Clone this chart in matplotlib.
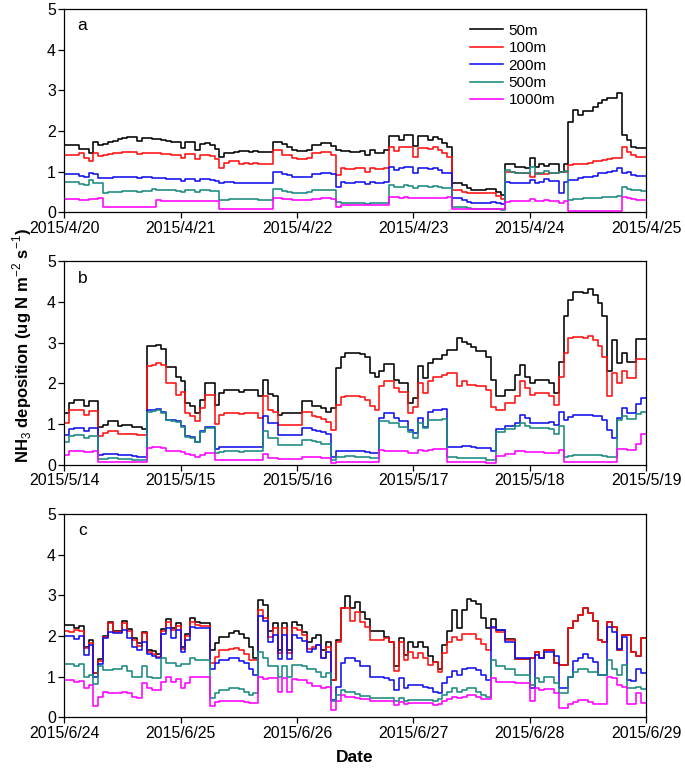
import numpy as np
import matplotlib
matplotlib.use("Agg")
import matplotlib.pyplot as plt

plt.rcParams['font.family'] = ['Liberation Sans', 'DejaVu Sans']
plt.rcParams['mathtext.fontset'] = 'custom'
plt.rcParams['mathtext.rm'] = 'Liberation Sans'
plt.rcParams['mathtext.bf'] = 'Liberation Sans:bold'

heights = ["50m", "100m", "200m", "500m", "1000m"]
colors = ["#000000", "#ff1010", "#1010ee", "#1a8a80", "#ff00ff"]

ticks_a = ["2015/4/20", "2015/4/21", "2015/4/22", "2015/4/23", "2015/4/24", "2015/4/25"]
ticks_b = ["2015/5/14", "2015/5/15", "2015/5/16", "2015/5/17", "2015/5/18", "2015/5/19"]
ticks_c = ["2015/6/24", "2015/6/25", "2015/6/26", "2015/6/27", "2015/6/28", "2015/6/29"]

# ---------------- panel a (hourly) ----------------
a_50m = [1.66,1.66,1.66,1.55,1.55,1.47,1.72,1.66,1.68,1.72,1.76,1.8,1.82,1.85,1.86,1.75,1.83,1.83,1.8,1.8,
         1.78,1.76,1.74,1.72,1.57,1.72,1.72,1.53,1.68,1.7,1.65,1.55,1.35,1.45,1.47,1.48,1.5,1.5,1.48,1.5,
         1.49,1.49,1.49,1.72,1.72,1.68,1.6,1.52,1.5,1.5,1.52,1.66,1.66,1.7,1.7,1.62,1.52,1.5,1.5,1.49,
         1.49,1.5,1.4,1.53,1.46,1.46,1.53,1.88,1.88,1.78,1.9,1.9,1.62,1.88,1.88,1.78,1.86,1.8,1.7,1.61,
         0.72,0.72,0.67,0.6,0.56,0.56,0.56,0.57,0.57,0.5,0.42,1.2,1.2,1.12,1.12,1.08,1.33,1.12,1.2,1.15,
         1.2,1.2,1.0,1.2,2.23,2.52,2.4,2.48,2.5,2.6,2.68,2.76,2.8,2.8,2.93,1.9,1.78,1.6,1.57,1.57]
a_100m = [1.41,1.41,1.41,1.45,1.33,1.25,1.45,1.38,1.4,1.43,1.45,1.47,1.49,1.49,1.49,1.43,1.47,1.47,1.45,1.45,
          1.44,1.43,1.42,1.4,1.33,1.43,1.43,1.3,1.4,1.42,1.38,1.32,1.08,1.22,1.25,1.25,1.2,1.22,1.2,1.21,
          1.2,1.2,1.2,1.53,1.53,1.42,1.42,1.33,1.32,1.32,1.34,1.45,1.46,1.49,1.49,1.41,0.92,1.08,1.06,1.06,
          1.08,1.1,1.0,1.1,1.06,1.06,1.1,1.61,1.5,1.6,1.6,1.6,1.37,1.57,1.57,1.55,1.6,1.53,1.45,1.37,
          0.55,0.55,0.51,0.47,0.47,0.47,0.47,0.47,0.47,0.4,0.32,1.0,1.0,0.96,0.96,0.97,0.88,0.97,0.95,0.95,
          0.96,0.96,0.98,1.0,1.16,1.18,1.2,1.2,1.22,1.25,1.25,1.29,1.32,1.33,1.33,1.61,1.49,1.4,1.37,1.37]
a_200m = [0.95,0.95,0.95,0.9,0.88,0.97,0.95,0.84,0.84,0.85,0.86,0.87,0.87,0.87,0.87,0.84,0.86,0.86,0.85,0.84,
          0.84,0.83,0.83,0.82,0.77,0.82,0.82,0.77,0.82,0.82,0.8,0.78,0.72,0.74,0.74,0.73,0.72,0.72,0.72,0.72,
          0.73,0.73,0.73,1.0,1.0,0.93,0.92,0.88,0.87,0.87,0.88,0.95,0.95,0.96,0.96,0.94,0.63,0.75,0.73,0.73,
          0.74,0.75,0.7,0.75,0.72,0.73,0.75,1.12,1.04,1.1,1.12,1.12,0.97,1.08,1.08,1.06,1.1,1.04,0.96,0.96,
          0.34,0.34,0.31,0.25,0.24,0.24,0.24,0.24,0.25,0.22,0.2,0.75,0.72,0.71,0.71,0.71,0.8,0.72,0.74,0.82,
          0.78,0.78,0.47,0.75,0.8,0.8,0.85,0.87,0.87,0.9,0.96,0.96,0.98,1.02,1.08,0.97,0.98,0.92,0.9,0.9]
a_500m = [0.74,0.74,0.74,0.7,0.68,0.8,0.72,0.72,0.48,0.5,0.5,0.51,0.52,0.52,0.52,0.51,0.52,0.52,0.57,0.56,
          0.55,0.54,0.54,0.53,0.5,0.54,0.54,0.5,0.54,0.54,0.52,0.52,0.3,0.3,0.32,0.33,0.33,0.32,0.32,0.32,
          0.3,0.3,0.3,0.57,0.57,0.52,0.5,0.48,0.48,0.48,0.49,0.54,0.55,0.56,0.56,0.55,0.26,0.22,0.22,0.22,
          0.23,0.22,0.2,0.23,0.22,0.22,0.23,0.67,0.63,0.62,0.66,0.65,0.59,0.64,0.64,0.63,0.65,0.63,0.6,0.59,
          0.14,0.13,0.12,0.1,0.09,0.09,0.09,0.08,0.08,0.07,0.06,1.04,1.0,0.96,0.96,0.96,1.12,0.95,0.96,1.02,
          0.97,0.96,1.0,1.02,0.3,0.32,0.33,0.34,0.34,0.35,0.36,0.37,0.38,0.38,0.39,0.63,0.58,0.55,0.54,0.52]
a_1000m = [0.33,0.33,0.33,0.31,0.31,0.33,0.33,0.34,0.14,0.14,0.14,0.14,0.14,0.14,0.14,0.14,0.14,0.14,0.14,0.3,
           0.29,0.28,0.28,0.29,0.28,0.27,0.28,0.27,0.28,0.28,0.27,0.28,0.07,0.07,0.07,0.07,0.07,0.07,0.07,0.07,
           0.07,0.07,0.07,0.34,0.34,0.33,0.32,0.3,0.3,0.3,0.31,0.32,0.33,0.34,0.34,0.33,0.14,0.18,0.17,0.17,
           0.18,0.18,0.17,0.18,0.17,0.17,0.18,0.38,0.37,0.35,0.37,0.36,0.34,0.36,0.36,0.35,0.36,0.35,0.36,0.38,
           0.07,0.07,0.07,0.07,0.07,0.07,0.07,0.07,0.07,0.07,0.07,0.26,0.27,0.27,0.27,0.28,0.32,0.27,0.28,0.3,
           0.29,0.28,0.22,0.27,0.04,0.04,0.04,0.04,0.04,0.04,0.04,0.04,0.04,0.04,0.04,0.38,0.35,0.33,0.31,0.31]

# ---------------- panel b (hourly) ----------------
b_50m = [1.27,1.52,1.6,1.6,1.45,1.58,1.58,0.93,0.98,1.07,1.07,0.96,0.98,0.98,0.94,0.94,0.89,2.91,2.91,2.95,
         2.85,2.4,2.4,2.17,2.05,1.52,1.45,1.27,1.6,2.02,2.02,1.48,1.76,1.83,1.83,1.83,1.78,1.84,1.84,1.84,
         1.68,2.09,1.75,1.7,1.23,1.27,1.27,1.27,1.27,1.56,1.56,1.45,1.45,1.4,1.31,1.4,2.38,2.66,2.76,2.76,
         2.76,2.72,2.64,2.25,2.15,2.3,2.48,2.48,2.09,2.0,2.0,1.52,1.65,2.43,2.13,2.5,2.6,2.6,2.7,2.83,
         2.83,3.11,3.03,2.98,2.89,2.8,2.8,2.66,2.09,1.7,1.7,1.84,1.84,2.21,2.46,2.17,2.0,2.09,2.09,2.09,
         2.0,1.76,2.54,3.65,4.06,4.26,4.26,4.22,4.32,4.18,3.98,3.65,2.3,3.07,2.5,2.75,2.54,2.54,3.1,3.1]
b_100m = [1.02,1.35,1.36,1.36,1.23,1.33,1.33,0.7,0.78,0.82,0.82,0.75,0.76,0.76,0.75,0.73,0.73,2.43,2.45,2.5,
          2.45,2.02,2.02,1.72,1.8,1.27,1.2,1.07,1.39,1.72,1.72,1.0,1.23,1.27,1.27,1.28,1.25,1.27,1.27,1.28,
          1.15,1.68,1.36,1.3,0.98,0.98,0.98,0.98,0.98,1.29,1.29,1.2,1.18,1.12,1.06,0.86,1.48,1.66,1.68,1.68,
          1.68,1.66,1.6,1.45,1.35,1.93,2.05,2.05,1.9,1.8,1.8,1.27,1.43,2.0,1.76,2.05,2.17,2.17,2.2,2.27,
          2.27,1.93,2.05,1.97,1.97,1.93,1.93,1.84,1.43,1.35,1.35,1.52,1.52,1.68,2.05,1.9,1.72,1.76,1.76,1.76,
          1.68,1.48,2.17,2.75,3.11,3.15,3.15,3.12,3.18,3.08,2.91,2.66,1.68,2.25,2.0,2.3,2.13,2.13,2.6,2.6]
b_200m = [0.74,0.89,0.9,0.9,0.82,0.9,0.9,0.23,0.26,0.27,0.27,0.24,0.25,0.25,0.22,0.2,0.2,1.34,1.34,1.37,
          1.3,1.1,1.1,1.08,0.96,0.72,0.68,0.57,0.82,0.92,0.92,0.39,0.44,0.45,0.45,0.45,0.44,0.45,0.45,0.45,
          0.45,1.19,1.02,1.02,0.74,0.74,0.74,0.74,0.74,0.9,0.9,0.86,0.84,0.8,0.76,0.2,0.33,0.34,0.34,0.34,
          0.34,0.33,0.32,0.3,0.3,1.15,1.27,1.27,1.15,1.07,1.07,0.86,0.78,1.15,0.94,1.29,1.35,1.35,1.38,0.45,
          0.45,0.45,0.46,0.46,0.45,0.42,0.42,0.42,0.33,0.88,0.88,0.95,0.95,1.02,1.23,1.15,1.04,1.04,1.04,1.04,
          1.05,0.98,1.29,1.1,1.18,1.23,1.23,1.23,1.23,1.19,1.19,1.1,0.86,0.66,1.15,1.39,1.27,1.27,1.5,1.65]
b_500m = [0.57,0.71,0.74,0.74,0.66,0.72,0.72,0.14,0.15,0.17,0.17,0.14,0.15,0.15,0.13,0.12,0.12,1.31,1.32,1.35,
          1.28,1.09,1.08,1.06,0.94,0.68,0.65,0.56,0.8,0.9,0.9,0.3,0.32,0.33,0.33,0.33,0.32,0.33,0.33,0.33,
          0.33,0.82,0.66,0.65,0.49,0.49,0.49,0.49,0.49,0.61,0.61,0.58,0.55,0.51,0.51,0.11,0.2,0.2,0.21,0.21,
          0.2,0.19,0.18,0.17,0.17,1.07,1.07,1.04,1.02,0.94,0.94,0.8,0.66,1.02,0.9,1.1,1.1,1.1,1.12,0.19,
          0.19,0.17,0.17,0.16,0.16,0.16,0.16,0.13,0.12,0.8,0.8,0.88,0.88,0.95,1.02,0.95,0.9,0.9,0.9,0.9,
          0.88,0.76,0.95,0.2,0.22,0.23,0.24,0.24,0.25,0.24,0.23,0.22,0.2,0.19,1.1,1.19,1.12,1.12,1.25,1.3]
b_1000m = [0.25,0.33,0.33,0.33,0.31,0.32,0.33,0.06,0.06,0.06,0.06,0.06,0.06,0.06,0.06,0.06,0.06,0.41,0.43,0.45,
           0.42,0.35,0.35,0.33,0.32,0.27,0.23,0.19,0.25,0.3,0.3,0.11,0.12,0.12,0.12,0.12,0.12,0.12,0.12,0.12,
           0.12,0.27,0.17,0.16,0.15,0.15,0.15,0.15,0.15,0.2,0.2,0.19,0.18,0.16,0.16,0.04,0.08,0.08,0.08,0.08,
           0.08,0.08,0.08,0.08,0.08,0.37,0.35,0.35,0.34,0.33,0.33,0.29,0.29,0.36,0.33,0.37,0.38,0.38,0.39,0.08,
           0.08,0.08,0.08,0.08,0.07,0.07,0.07,0.05,0.05,0.22,0.22,0.27,0.27,0.33,0.33,0.32,0.31,0.31,0.31,0.29,
           0.29,0.29,0.37,0.06,0.06,0.06,0.06,0.06,0.06,0.06,0.06,0.06,0.06,0.06,0.39,0.38,0.37,0.37,0.5,0.75]

# ---------------- panel c (hourly) ----------------
c_50m = [2.27,2.27,2.2,2.25,1.74,1.9,1.1,1.43,2.0,2.35,2.12,2.12,2.37,2.17,1.94,1.82,2.1,1.66,1.62,1.55,
         2.17,2.42,2.2,2.31,1.74,2.04,2.43,2.35,2.31,2.31,1.66,1.82,1.98,1.98,2.08,2.12,2.05,1.96,1.72,1.45,
         2.89,2.76,2.12,2.31,1.66,2.31,1.66,2.34,2.26,2.1,1.86,1.94,2.02,1.66,1.86,0.92,1.9,2.7,2.99,2.68,
         2.83,2.6,2.42,2.12,2.12,2.12,1.98,1.86,1.25,1.96,1.53,1.86,1.74,1.86,1.74,1.5,1.37,1.2,1.78,2.12,
         2.64,2.19,2.64,2.91,2.86,2.78,2.43,2.2,2.41,2.15,2.15,1.93,1.93,1.43,1.43,1.43,1.45,1.61,1.45,1.66,
         1.66,1.33,1.28,1.28,2.19,2.37,2.52,2.68,2.56,2.37,1.9,1.86,2.35,2.23,1.66,2.02,2.02,1.6,1.5,1.95]
c_100m = [2.12,2.1,2.15,2.12,1.7,1.82,1.08,1.39,1.98,2.31,2.1,2.1,2.33,2.12,1.9,1.76,2.07,1.6,1.55,1.49,
          2.12,2.34,2.15,2.25,1.68,2.0,2.34,2.28,2.25,2.25,1.33,1.49,1.66,1.66,1.68,1.7,1.65,1.55,1.42,1.4,
          2.64,2.43,1.98,2.2,1.57,2.2,1.57,2.19,2.15,2.02,1.68,1.74,1.78,1.45,1.74,0.92,1.86,2.7,2.68,2.37,
          2.6,2.35,2.23,1.9,1.9,1.9,1.94,1.86,1.14,1.86,1.41,1.61,1.45,1.57,1.45,1.29,1.37,1.12,1.57,1.86,
          1.98,1.9,2.04,2.04,2.04,1.93,1.8,1.66,2.2,2.11,2.11,1.9,1.9,1.43,1.43,1.43,1.45,1.61,1.45,1.66,
          1.66,1.33,1.28,1.28,2.19,2.37,2.52,2.68,2.56,2.37,1.9,1.86,2.35,2.23,1.66,2.02,2.02,1.6,1.5,1.95]
c_200m = [2.0,2.0,1.93,2.0,1.53,1.77,1.0,1.3,1.94,2.1,2.08,2.08,2.15,1.94,1.74,1.66,1.86,1.55,1.5,1.45,
          2.04,2.19,1.94,2.15,1.61,1.9,2.23,2.19,2.19,2.19,1.2,1.33,1.41,1.41,1.45,1.45,1.38,1.33,1.2,1.05,
          2.5,2.37,1.86,2.03,1.43,2.03,1.43,2.02,1.96,1.88,1.61,1.68,1.78,1.45,1.61,0.43,0.75,1.33,1.47,1.47,
          1.38,1.25,1.25,1.0,1.0,1.0,0.96,0.92,0.67,0.96,0.73,0.8,0.8,0.8,0.75,0.71,0.63,0.6,0.84,1.0,
          1.14,1.04,1.19,1.22,1.22,1.16,1.04,0.92,2.23,2.15,2.15,1.86,1.86,1.45,1.45,1.45,0.73,1.53,1.45,1.6,
          1.6,1.5,0.73,0.73,1.0,1.38,1.45,1.55,1.45,1.37,1.04,1.04,2.23,2.11,1.68,1.98,0.92,0.9,1.2,1.1]
c_500m = [1.3,1.3,1.25,1.3,0.98,1.05,0.81,1.27,1.16,1.16,1.18,1.18,1.25,1.14,1.0,0.98,1.27,1.0,0.96,0.96,
          1.45,1.33,1.33,1.25,1.3,1.3,1.47,1.41,1.41,1.41,0.47,0.59,0.67,0.67,0.72,0.73,0.7,0.63,0.55,0.6,
          1.61,1.45,1.27,1.27,0.98,1.27,0.98,1.28,1.28,1.25,1.2,1.18,1.12,1.0,1.08,0.39,0.55,0.67,0.63,0.63,
          0.57,0.53,0.53,0.48,0.48,0.48,0.48,0.48,0.39,0.47,0.4,0.43,0.43,0.43,0.43,0.43,0.39,0.45,0.55,0.63,
          0.71,0.63,0.67,0.71,0.71,0.63,0.55,0.51,1.41,1.25,1.25,1.2,1.2,1.04,1.04,1.04,0.8,0.96,0.88,1.0,
          1.0,0.84,0.59,0.59,1.0,1.12,1.2,1.2,1.12,1.12,1.04,1.04,1.41,1.2,1.04,1.29,0.71,0.71,0.75,0.7]
c_1000m = [0.92,0.92,0.88,0.9,0.71,0.79,0.29,0.51,0.61,0.59,0.59,0.59,0.63,0.59,0.51,0.47,0.84,0.71,0.67,0.67,
           0.88,0.98,0.88,0.94,0.71,0.84,0.98,0.98,0.98,0.98,0.29,0.37,0.4,0.4,0.4,0.41,0.4,0.38,0.34,0.34,
           0.98,0.93,0.96,0.96,0.63,0.96,0.63,0.94,0.92,0.92,0.84,0.78,0.78,0.71,0.75,0.18,0.39,0.55,0.51,0.51,
           0.48,0.45,0.45,0.4,0.4,0.4,0.4,0.4,0.3,0.37,0.32,0.34,0.34,0.34,0.34,0.34,0.3,0.33,0.4,0.45,
           0.51,0.47,0.5,0.55,0.55,0.51,0.45,0.45,0.96,0.88,0.88,0.86,0.86,0.84,0.84,0.84,0.39,0.71,0.67,0.7,
           0.7,0.59,0.22,0.22,0.32,0.38,0.43,0.43,0.38,0.32,0.32,0.32,1.0,0.96,0.8,0.75,0.32,0.32,0.6,0.35]

panels = [
    ("a", ticks_a, [a_50m, a_100m, a_200m, a_500m, a_1000m]),
    ("b", ticks_b, [b_50m, b_100m, b_200m, b_500m, b_1000m]),
    ("c", ticks_c, [c_50m, c_100m, c_200m, c_500m, c_1000m]),
]

W, H = 685, 771
fig = plt.figure(figsize=(W / 100, H / 100), dpi=100)
left, right = 64.3 / W, 646 / W
tops = [9.0, 261.5, 514.0]
ph = 203.3

axes = []
for (lab, tlabels, series), top in zip(panels, tops):
    ax = fig.add_axes([left, 1 - (top + ph) / H, right - left, ph / H])
    axes.append(ax)
    for vals, col, name in zip(series, colors, heights):
        y = np.array(vals + [vals[-1]], dtype=float)
        x = np.arange(len(y))
        ax.plot(x, y, drawstyle="steps-post", color=col, lw=1.15, label=name)
    ax.set_xlim(0, 120)
    ax.set_ylim(0, 5)
    ax.set_yticks([0, 1, 2, 3, 4, 5])
    ax.set_xticks(np.arange(0, 121, 24))
    ax.set_xticklabels(tlabels)
    ax.tick_params(axis="both", direction="out", length=4, width=0.9, labelsize=11.4,
                   top=False, right=False, pad=2)
    for s in ax.spines.values():
        s.set_linewidth(0.9)
    ax.text(0.031, 0.918, lab, transform=ax.transAxes, fontsize=12.5, ha="center", va="center")

leg = axes[0].legend(loc="upper left", bbox_to_anchor=(0.698, 0.927), frameon=False, fontsize=11,
                     handlelength=2.15, handletextpad=0.35, labelspacing=0.22, borderpad=0, borderaxespad=0)

fig.text(22 / W, 1 - 346 / H, r"NH$_3$ deposition (ug N m$^{-2}$ s$^{-1}$)", rotation=90,
         ha="center", va="center", fontsize=12, fontweight="bold")
fig.text(355 / W, 1 - 757 / H, "Date", ha="center", va="center", fontsize=12.5, fontweight="bold")

fig.savefig("out.png", dpi=100)
